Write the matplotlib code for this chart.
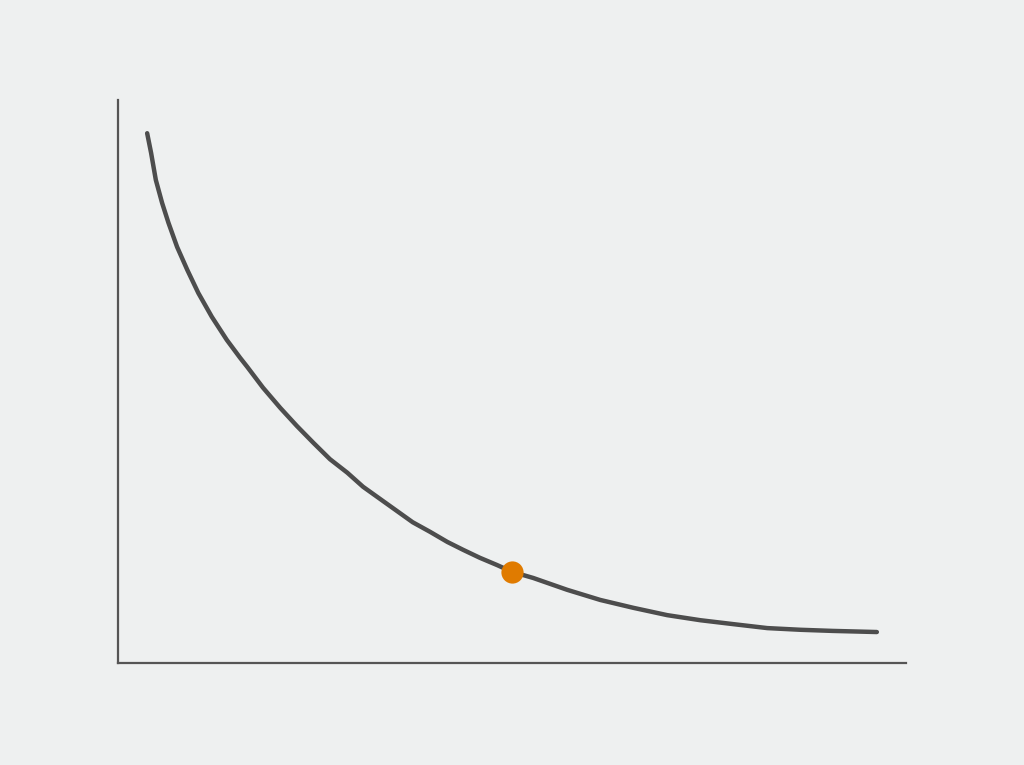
import matplotlib
matplotlib.use("Agg")
import matplotlib.pyplot as plt

# curve (arbitrary units, axes run 0..10)
curve_x = [0.37, 0.42, 0.48, 0.56, 0.64, 0.75, 0.88, 1.02, 1.19, 1.38,
           1.55, 1.64, 1.84, 2.06, 2.27, 2.48, 2.69, 2.91, 3.11, 3.33,
           3.54, 3.74, 3.96, 4.18, 4.38, 4.59, 4.81, 5.00, 5.27, 5.70,
           6.12, 6.54, 6.97, 7.39, 7.81, 8.24, 8.66, 9.07, 9.63]
curve_y = [9.41, 9.06, 8.58, 8.17, 7.82, 7.39, 6.98, 6.57, 6.15, 5.74,
           5.42, 5.26, 4.89, 4.53, 4.21, 3.91, 3.62, 3.38, 3.13, 2.91,
           2.70, 2.50, 2.33, 2.15, 2.01, 1.87, 1.74, 1.62, 1.51, 1.30,
           1.12, 0.98, 0.85, 0.76, 0.69, 0.62, 0.59, 0.57, 0.55]

# highlighted point
point_x = [5.00]
point_y = [1.62]

bg = "#eef0f0"

fig = plt.figure(figsize=(10.24, 7.65), dpi=100, facecolor=bg)
ax = fig.add_axes([118 / 1024, 102 / 765, 788 / 1024, 563 / 765])
ax.set_facecolor(bg)

ax.plot(curve_x, curve_y, color="#4d4d4d", linewidth=3.2,
        solid_capstyle="round", solid_joinstyle="round", zorder=2)
ax.plot(point_x, point_y, "o", color="#e07b00", markersize=16,
        markeredgewidth=0, zorder=3)

ax.set_xlim(0, 10)
ax.set_ylim(0, 10)

for side in ["top", "right"]:
    ax.spines[side].set_visible(False)
for side in ["left", "bottom"]:
    ax.spines[side].set_color("#555555")
    ax.spines[side].set_linewidth(1.6)

ax.set_xticks([])
ax.set_yticks([])

fig.savefig("out.png", dpi=100, facecolor=bg)
